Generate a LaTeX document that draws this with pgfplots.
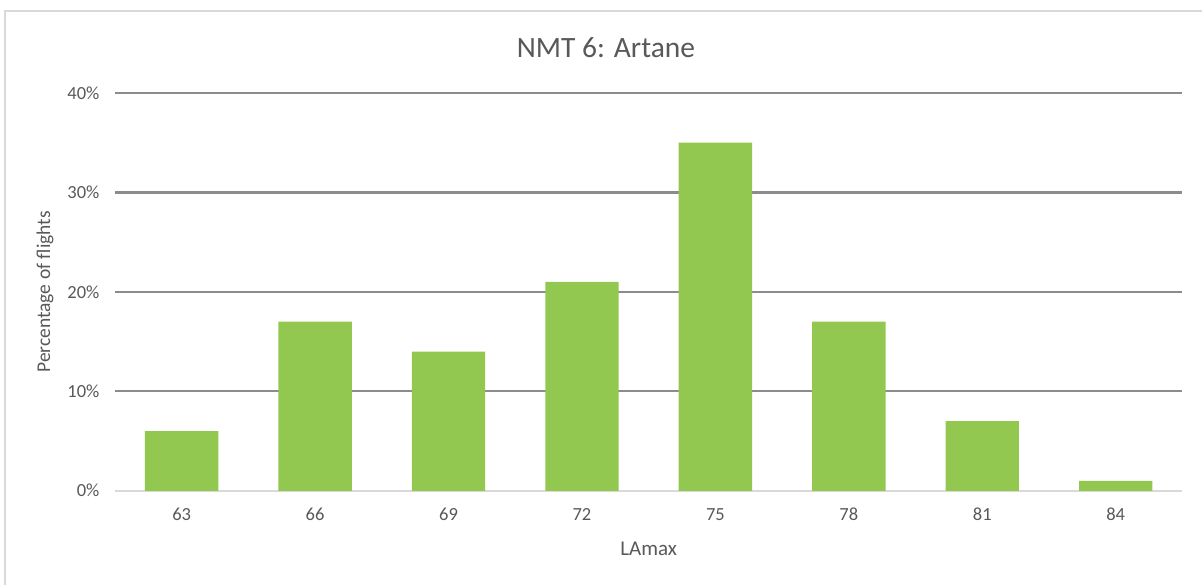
\documentclass[border=0pt]{standalone}
\usepackage{pgfplots}
\pgfplotsset{compat=1.18}
\usepackage{fontspec}
\setmainfont{Carlito}
\definecolor{bargreen}{HTML}{92C850}
\definecolor{gridgray}{HTML}{8C8C8C}
\definecolor{basegray}{HTML}{D9D9D9}
\definecolor{txtgray}{HTML}{595959}
\definecolor{framegray}{HTML}{D9D9D9}
\begin{document}
\begin{tikzpicture}[x=1pt,y=1pt]
\fill[white] (0,0) rectangle (1203,585);
\draw[framegray,line width=1.2pt] (5,0) -- (5,574) -- (1203,574);
\begin{axis}[
  at={(115pt,94pt)}, anchor=south west,
  scale only axis, width=1068pt, height=398pt,
  xmin=-0.5, xmax=7.5, ymin=0, ymax=40,
  axis line style={draw=none},
  ybar, bar width=0.55, bar shift=0pt,
  xtick=data, xticklabels={63,66,69,72,75,78,81,84},
  ytick={10,20,30,40},
  yticklabel={\pgfmathprintnumber{\tick}\%},
  /pgf/number format/assume math mode=true,
  major tick length=0pt,
  tick style={draw=none},
  ymajorgrids, grid style={gridgray, line width=2.2pt},
  extra y ticks={0}, extra y tick style={grid style={basegray,line width=1.5pt}},
  tick label style={font=\fontsize{18.5}{20}\selectfont, text=txtgray},
  yticklabel style={xshift=-12pt},
  xticklabel style={yshift=-14pt},
  title={NMT 6: Artane},
  title style={at={(axis description cs:0.46,1.098)}, anchor=center, font=\fontsize{29.5}{34}\selectfont, text=txtgray},
  xlabel={LAmax},
  xlabel style={at={(axis description cs:0.5,-0.146)}, anchor=center, font=\fontsize{21}{24}\selectfont, text=txtgray},
  ylabel={Percentage of flights},
  ylabel style={at={(axis description cs:-0.0655,0.5)}, anchor=center, font=\fontsize{19.5}{22}\selectfont, text=txtgray},
  clip=false,
]
\addplot[fill=bargreen, draw=none] coordinates {(0,6) (1,17) (2,14) (3,21) (4,35) (5,17) (6,7) (7,1)};
\end{axis}
\end{tikzpicture}
\end{document}
